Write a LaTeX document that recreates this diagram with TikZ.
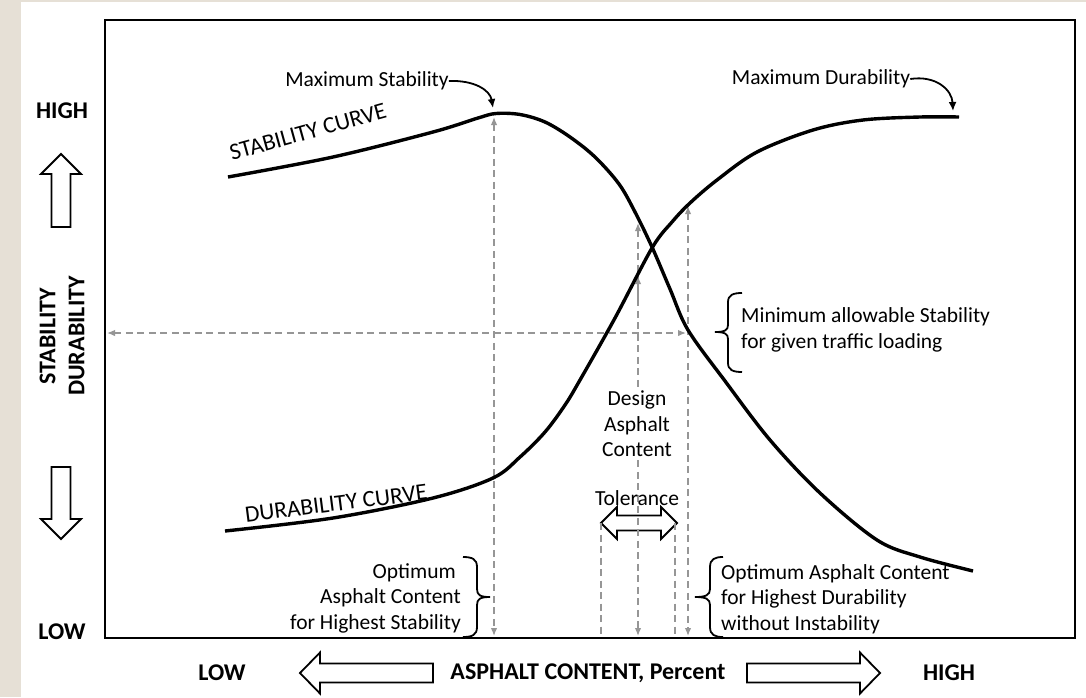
\documentclass[tikz,border=0pt]{standalone}
\usepackage{fontspec}
\setmainfont{Carlito}
\usetikzlibrary{arrows.meta}
\definecolor{bgbeige}{RGB}{230,224,214}
\definecolor{guidegray}{RGB}{150,150,150}
\begin{document}
\begin{tikzpicture}[x=1pt,y=-1pt,
  curve/.style={line width=3.4pt},
  guide/.style={draw=guidegray, line width=1.4pt, dash pattern=on 7pt off 4.5pt},
  gtips/.style={{Latex[length=8pt,width=6.5pt]}-{Latex[length=8pt,width=6.5pt]}},
  gtip/.style={-{Latex[length=8pt,width=6.5pt]}},
  fat/.style={draw=black, line width=1.8pt, fill=white, line join=miter},
  bracestyle/.style={line width=1.8pt},
  annot/.style={line width=1.8pt, -{Latex[length=9pt,width=8pt]}},
  lbl/.style={font=\fontsize{21.5}{25.5}\selectfont, inner sep=0pt},
  blbl/.style={font=\bfseries\fontsize{24}{29}\selectfont, inner sep=0pt},
  clbl/.style={font=\fontsize{23.5}{28}\selectfont, inner sep=0pt},
]
\useasboundingbox (0,0) rectangle (1086,697);
\fill[bgbeige] (0,0) rectangle (1086,697);
\fill[white] (21,2) rectangle (1086,697);
% frame
\draw[line width=2.4pt] (105,20) rectangle (1075,638);

% coordinates for guides
\coordinate (v1t) at (494,117);
\coordinate (v1b) at (494,636);
\coordinate (v2t) at (638,223);
\coordinate (v2m) at (638,276);
\coordinate (v2b) at (638,636);
\coordinate (v3t) at (688,206);
\coordinate (v3b) at (688,636);
\coordinate (hl) at (107,333);
\coordinate (hr) at (686,333);
\coordinate (t1t) at (601,523);
\coordinate (t1b) at (601,637);
\coordinate (t2t) at (675,523);
\coordinate (t2b) at (675,637);

% tolerance double arrow
\draw[fat] (601,523) -- (617,507) -- (617,515.5) -- (661,515.5) -- (661,507) -- (677,523) -- (661,539) -- (661,530.5) -- (617,530.5) -- (617,539) -- cycle;

% guides
\draw[guide,gtips] (v1t) -- (v1b);
\draw[guide,gtips] (v2t) -- (v2b);
\draw[guide,gtip] (638,300) -- (v2m);
\draw[guide,gtips] (v3t) -- (v3b);
\draw[guide,gtips] (hl) -- (hr);
\draw[guide] (t1t) -- (t1b);
\draw[guide] (t2t) -- (t2b);

% curves
\draw[curve] plot[smooth, tension=0.55] coordinates {(228,177) (333,157) (433,132) (478,118) (496,113.5) (520,114.5) (545,122) (570,137) (595,157) (619,184) (635,212) (652,247) (670,289) (688,330) (725,381) (770,440) (820,493) (877,540) (920,557) (973,571)};
\draw[curve] plot[smooth, tension=0.55] coordinates {(225,531) (333,518) (433,498) (493,478) (520,457) (545,432) (565,405) (580,380) (615,318) (652,248) (672,222) (690,203) (717,180) (757,152) (813,130) (863,120) (920,117) (959,117)};

% curve labels
\node[clbl, anchor=base, rotate=15.5] (nStabC) at (310,139) {STABILITY CURVE};
\node[clbl, anchor=base, rotate=7.3] (nDurC) at (337,511) {DURABILITY CURVE};

% annotations top
\node[lbl] (nMaxS) at (367,81) {Maximum Stability};
\node[lbl] (nMaxD) at (821,79) {Maximum Durability};
\coordinate (tipMS) at (493,108);
\coordinate (tipMD) at (953,111);
\draw[annot] (nMaxS.east) .. controls (474,80) and (490,90) .. (tipMS);
\draw[annot] (nMaxD.east) .. controls (936,75) and (952,90) .. (tipMD);

% design / tolerance
\node[lbl, align=center, fill=white, inner sep=3pt] (nDesign) at (637,424) {Design\\Asphalt\\Content};
\node[lbl, anchor=base] (nTol) at (637,505) {Tolerance};

% braces
\draw[bracestyle] (463,557) .. controls (472,557) and (477,559) .. (477,567) -- (477,589) .. controls (477,595) and (480,597) .. (490,597) .. controls (480,597) and (477,599) .. (477,605) -- (477,627) .. controls (477,635) and (472,637) .. (463,637);
\draw[bracestyle] (742,293) .. controls (733,293) and (728,295) .. (728,302) -- (728,325) .. controls (728,330) and (725,332) .. (715,332) .. controls (725,332) and (728,334) .. (728,339) -- (728,363) .. controls (728,370) and (733,372) .. (742,372);
\draw[bracestyle] (723,557) .. controls (715,557) and (710,559) .. (710,567) -- (710,589) .. controls (710,595) and (706,597) .. (695,597) .. controls (706,597) and (710,599) .. (710,605) -- (710,627) .. controls (710,635) and (715,637) .. (723,637);

\node[lbl, anchor=west, align=left] (nMinS) at (741,330) {Minimum allowable Stability\\for given traffic loading};
\node[lbl, anchor=west, align=left] (nOptD) at (721,599) {Optimum Asphalt Content\\for Highest Durability\\without Instability};
\node[lbl, anchor=east, align=right] (nOptS) at (461,598) {Optimum\hspace*{5pt}\\Asphalt Content\\for Highest Stability};

% left column
\node[blbl] (nHighL) at (62,111) {HIGH};
\draw[fat] (61,154) -- (81,174) -- (70.5,174) -- (70.5,227) -- (51.5,227) -- (51.5,174) -- (41,174) -- cycle;
\node[blbl, align=center, rotate=90] (nAxisY) at (62,336) {STABILITY\\DURABILITY};
\draw[fat] (51.5,467) -- (70.5,467) -- (70.5,519) -- (81,519) -- (61,539) -- (41,519) -- (51.5,519) -- cycle;
\node[blbl] (nLowL) at (62,632) {LOW};

% bottom row
\node[blbl] (nLowB) at (222,673) {LOW};
\draw[fat] (300,673) -- (320,652.5) -- (320,663.5) -- (433,663.5) -- (433,682.5) -- (320,682.5) -- (320,693.5) -- cycle;
\node[blbl] (nAxisX) at (588,673) {ASPHALT CONTENT, Percent};
\draw[fat] (880,673) -- (860,652.5) -- (860,663.5) -- (747,663.5) -- (747,682.5) -- (860,682.5) -- (860,693.5) -- cycle;
\node[blbl] (nHighB) at (949,673) {HIGH};
\end{tikzpicture}
\end{document}
